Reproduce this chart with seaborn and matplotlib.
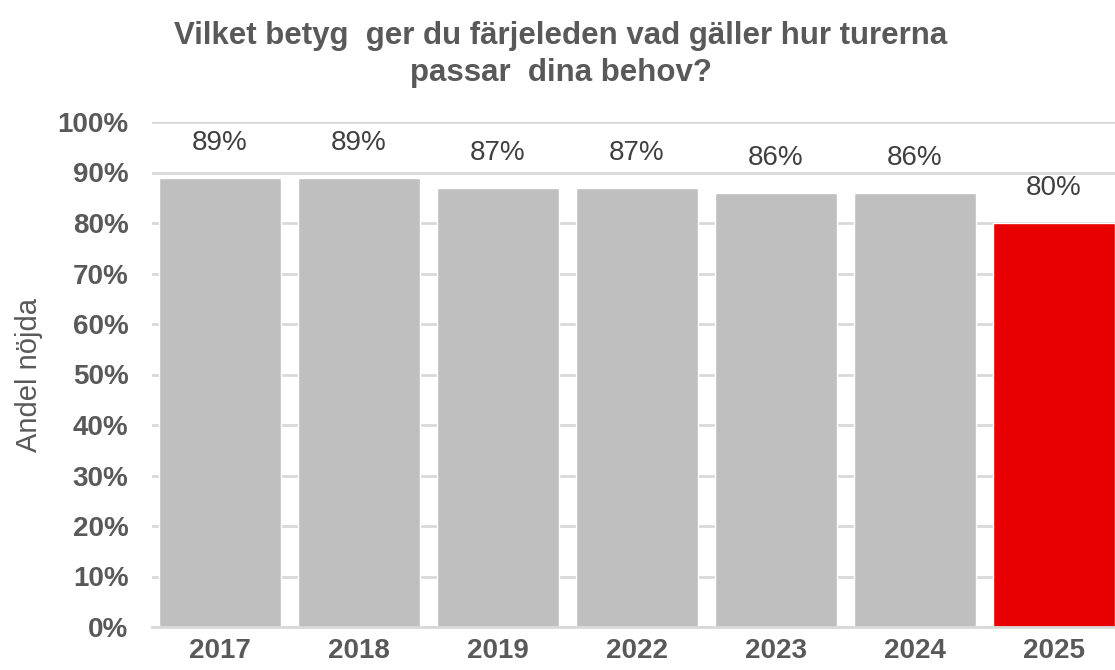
import matplotlib
matplotlib.use("Agg")
import matplotlib.pyplot as plt
import seaborn as sns
import pandas as pd

# Chart data
years = ["2017", "2018", "2019", "2022", "2023", "2024", "2025"]
share = [89, 89, 87, 87, 86, 86, 80]
colors = ["#bfbfbf"] * 6 + ["#e80000"]

df = pd.DataFrame({"year": years, "share": share})

sns.set_style("white")
plt.rcParams["font.family"] = ["Liberation Sans", "DejaVu Sans"]

fig = plt.figure(figsize=(11.15, 6.7), dpi=100)
ax = fig.add_axes([152 / 1115, 43 / 670, 963 / 1115, 505 / 670])

sns.barplot(data=df, x="year", y="share", hue="year", palette=colors,
            width=0.88, legend=False, saturation=1, ax=ax, zorder=2)

ax.set_ylim(0, 100)
ax.set_xlim(-0.49, 6.44)
ax.set_yticks(range(0, 101, 10))
ax.set_yticklabels([f"{v}%" for v in range(0, 101, 10)],
                   fontsize=20, fontweight="bold", color="#595959")
ax.set_xticks(range(len(years)))
ax.set_xticklabels(years, fontsize=20, fontweight="bold", color="#595959")
ax.tick_params(axis="x", length=0, pad=8)
ax.tick_params(axis="y", length=0, pad=17)
ax.yaxis.grid(True, color="#d9d9d9", linewidth=2, zorder=0)
ax.set_axisbelow(True)
for s in ["top", "right", "left"]:
    ax.spines[s].set_visible(False)
ax.spines["bottom"].set_color("#d9d9d9")
ax.spines["bottom"].set_linewidth(2)

ax.set_xlabel("")
ax.set_ylabel("Andel nöjda", fontsize=21, color="#595959", labelpad=10)

# value labels
for i, v in enumerate(share):
    ax.text(i, v + 4.3, f"{v}%", ha="center", va="bottom",
            fontsize=20, color="#404040")

fig.text(0.503, 0.946, "Vilket betyg  ger du färjeleden vad gäller hur turerna",
         ha="center", va="center", fontsize=22.5, fontweight="bold", color="#595959")
fig.text(0.503, 0.891, "passar  dina behov?",
         ha="center", va="center", fontsize=22.5, fontweight="bold", color="#595959")

fig.savefig("out.png", dpi=100)
